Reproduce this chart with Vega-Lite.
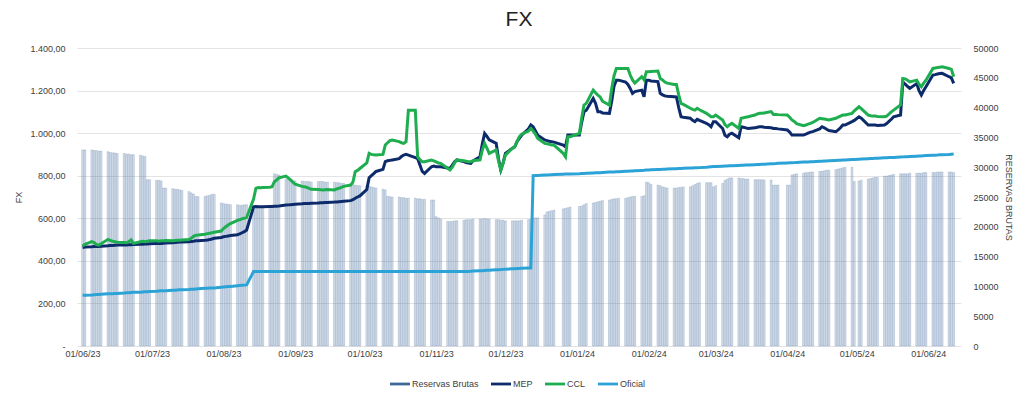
{
"$schema": "https://vega.github.io/schema/vega-lite/v6.json",
"width": 884, "height": 298,
"autosize": {"type": "none"},
"padding": {"left": 77, "top": 48, "right": 63, "bottom": 52},
"background": "white",
"config": {
  "locale": {"number": {"decimal": ",", "thousands": ".", "grouping": [3], "currency": ["$", ""]}},
  "font": "Liberation Sans",
  "view": {"stroke": null},
  "axis": {"labelFont": "Liberation Sans", "labelFontSize": 9, "labelColor": "#404040", "titleFont": "Liberation Sans", "titleFontSize": 9, "titleFontWeight": "normal", "titleColor": "#404040", "domain": false, "ticks": false}
},
"title": {"text": "FX", "fontSize": 21, "font": "Liberation Sans", "fontWeight": "normal", "color": "#222222", "offset": 14},
"data": {"values": [
{"d":"2023-06-01","r":32900,"m":463,"c":470,"o":238},
{"d":"2023-06-02","r":32900,"m":465,"c":478,"o":239},
{"d":"2023-06-05","r":32900,"m":466,"c":490,"o":240},
{"d":"2023-06-06","r":32800,"m":467,"c":486,"o":241},
{"d":"2023-06-07","r":32800,"m":467,"c":476,"o":242},
{"d":"2023-06-08","r":32700,"m":468,"c":474,"o":242},
{"d":"2023-06-09","r":32700,"m":469,"c":480,"o":243},
{"d":"2023-06-12","r":32600,"m":471,"c":501,"o":245},
{"d":"2023-06-13","r":32500,"m":472,"c":496,"o":245},
{"d":"2023-06-14","r":32400,"m":472,"c":492,"o":246},
{"d":"2023-06-15","r":32400,"m":473,"c":490,"o":247},
{"d":"2023-06-16","r":32300,"m":474,"c":488,"o":247},
{"d":"2023-06-19","r":32300,"m":475,"c":486,"o":249},
{"d":"2023-06-20","r":32200,"m":475,"c":485,"o":250},
{"d":"2023-06-21","r":32200,"m":476,"c":490,"o":250},
{"d":"2023-06-22","r":32100,"m":476,"c":498,"o":251},
{"d":"2023-06-23","r":32100,"m":477,"c":482,"o":252},
{"d":"2023-06-26","r":32000,"m":478,"c":490,"o":253},
{"d":"2023-06-27","r":31900,"m":478,"c":492,"o":254},
{"d":"2023-06-28","r":31800,"m":479,"c":490,"o":255},
{"d":"2023-06-29","r":27900,"m":479,"c":492,"o":255},
{"d":"2023-06-30","r":27900,"m":480,"c":494,"o":256},
{"d":"2023-07-03","r":27800,"m":481,"c":494,"o":257},
{"d":"2023-07-04","r":27800,"m":481,"c":492,"o":258},
{"d":"2023-07-05","r":27700,"m":482,"c":494,"o":259},
{"d":"2023-07-06","r":26500,"m":483,"c":495,"o":259},
{"d":"2023-07-07","r":26500,"m":484,"c":496,"o":260},
{"d":"2023-07-10","r":26400,"m":485,"c":495,"o":262},
{"d":"2023-07-11","r":26300,"m":486,"c":496,"o":262},
{"d":"2023-07-12","r":26300,"m":487,"c":497,"o":263},
{"d":"2023-07-13","r":26200,"m":488,"c":497,"o":264},
{"d":"2023-07-14","r":26100,"m":489,"c":498,"o":264},
{"d":"2023-07-17","r":25900,"m":490,"c":500,"o":266},
{"d":"2023-07-18","r":25700,"m":491,"c":506,"o":267},
{"d":"2023-07-19","r":25500,"m":492,"c":515,"o":267},
{"d":"2023-07-20","r":25100,"m":494,"c":520,"o":268},
{"d":"2023-07-21","r":25050,"m":495,"c":521,"o":269},
{"d":"2023-07-24","r":25100,"m":497,"c":525,"o":271},
{"d":"2023-07-25","r":25200,"m":498,"c":528,"o":271},
{"d":"2023-07-26","r":25300,"m":500,"c":530,"o":272},
{"d":"2023-07-27","r":25450,"m":503,"c":532,"o":273},
{"d":"2023-07-28","r":25450,"m":506,"c":534,"o":273},
{"d":"2023-07-31","r":24000,"m":510,"c":540,"o":276},
{"d":"2023-08-01","r":23900,"m":513,"c":552,"o":277},
{"d":"2023-08-02","r":23800,"m":515,"c":560,"o":278},
{"d":"2023-08-03","r":23800,"m":517,"c":568,"o":279},
{"d":"2023-08-04","r":23700,"m":519,"c":575,"o":280},
{"d":"2023-08-07","r":23700,"m":523,"c":590,"o":283},
{"d":"2023-08-08","r":23600,"m":527,"c":593,"o":284},
{"d":"2023-08-09","r":23600,"m":532,"c":598,"o":285},
{"d":"2023-08-10","r":23700,"m":537,"c":600,"o":286},
{"d":"2023-08-11","r":23700,"m":545,"c":604,"o":287},
{"d":"2023-08-14","r":23600,"m":654,"c":690,"o":350},
{"d":"2023-08-15","r":23500,"m":655,"c":741,"o":350},
{"d":"2023-08-16","r":23500,"m":654,"c":745,"o":350},
{"d":"2023-08-17","r":23400,"m":654,"c":744,"o":350},
{"d":"2023-08-18","r":23400,"m":654,"c":745,"o":350},
{"d":"2023-08-21","r":23500,"m":655,"c":746,"o":350},
{"d":"2023-08-22","r":23600,"m":655,"c":748,"o":350},
{"d":"2023-08-23","r":28900,"m":656,"c":772,"o":350},
{"d":"2023-08-24","r":28800,"m":657,"c":780,"o":350},
{"d":"2023-08-25","r":28700,"m":658,"c":790,"o":350},
{"d":"2023-08-28","r":28000,"m":662,"c":798,"o":350},
{"d":"2023-08-29","r":27900,"m":663,"c":790,"o":350},
{"d":"2023-08-30","r":27800,"m":664,"c":780,"o":350},
{"d":"2023-08-31","r":27800,"m":665,"c":770,"o":350},
{"d":"2023-09-01","r":27700,"m":666,"c":760,"o":350},
{"d":"2023-09-04","r":27700,"m":668,"c":750,"o":350},
{"d":"2023-09-05","r":27600,"m":669,"c":748,"o":350},
{"d":"2023-09-06","r":27600,"m":670,"c":745,"o":350},
{"d":"2023-09-07","r":27600,"m":670,"c":740,"o":350},
{"d":"2023-09-08","r":27500,"m":671,"c":736,"o":350},
{"d":"2023-09-11","r":27600,"m":672,"c":735,"o":350},
{"d":"2023-09-12","r":27600,"m":673,"c":734,"o":350},
{"d":"2023-09-13","r":27600,"m":673,"c":733,"o":350},
{"d":"2023-09-14","r":27500,"m":674,"c":734,"o":350},
{"d":"2023-09-15","r":27500,"m":674,"c":735,"o":350},
{"d":"2023-09-18","r":27500,"m":676,"c":733,"o":350},
{"d":"2023-09-19","r":27400,"m":677,"c":738,"o":350},
{"d":"2023-09-20","r":27400,"m":678,"c":741,"o":350},
{"d":"2023-09-21","r":27300,"m":679,"c":745,"o":350},
{"d":"2023-09-22","r":27300,"m":680,"c":750,"o":350},
{"d":"2023-09-25","r":27200,"m":683,"c":756,"o":350},
{"d":"2023-09-26","r":27100,"m":687,"c":770,"o":350},
{"d":"2023-09-27","r":27000,"m":694,"c":819,"o":350},
{"d":"2023-09-28","r":26900,"m":700,"c":825,"o":350},
{"d":"2023-09-29","r":26900,"m":705,"c":834,"o":350},
{"d":"2023-10-02","r":26900,"m":735,"c":860,"o":350},
{"d":"2023-10-03","r":26800,"m":790,"c":905,"o":350},
{"d":"2023-10-04","r":26700,"m":800,"c":900,"o":350},
{"d":"2023-10-05","r":26600,"m":810,"c":898,"o":350},
{"d":"2023-10-06","r":26500,"m":820,"c":897,"o":350},
{"d":"2023-10-09","r":26300,"m":830,"c":900,"o":350},
{"d":"2023-10-10","r":26200,"m":866,"c":944,"o":350},
{"d":"2023-10-11","r":25100,"m":870,"c":955,"o":350},
{"d":"2023-10-12","r":25050,"m":872,"c":965,"o":350},
{"d":"2023-10-13","r":25000,"m":874,"c":968,"o":350},
{"d":"2023-10-16","r":25000,"m":880,"c":960,"o":350},
{"d":"2023-10-17","r":24900,"m":890,"c":955,"o":350},
{"d":"2023-10-18","r":24900,"m":897,"c":952,"o":350},
{"d":"2023-10-19","r":24800,"m":900,"c":960,"o":350},
{"d":"2023-10-20","r":24800,"m":897,"c":1108,"o":350},
{"d":"2023-10-23","r":24800,"m":885,"c":1108,"o":350},
{"d":"2023-10-24","r":24700,"m":881,"c":889,"o":350},
{"d":"2023-10-25","r":24700,"m":850,"c":875,"o":350},
{"d":"2023-10-26","r":24600,"m":820,"c":866,"o":350},
{"d":"2023-10-27","r":24600,"m":811,"c":866,"o":350},
{"d":"2023-10-30","r":24500,"m":842,"c":874,"o":350},
{"d":"2023-10-31","r":24500,"m":845,"c":870,"o":350},
{"d":"2023-11-01","r":21700,"m":842,"c":865,"o":350},
{"d":"2023-11-02","r":21500,"m":842,"c":860,"o":350},
{"d":"2023-11-03","r":21300,"m":842,"c":858,"o":350},
{"d":"2023-11-06","r":20900,"m":836,"c":835,"o":350},
{"d":"2023-11-07","r":20900,"m":834,"c":827,"o":350},
{"d":"2023-11-08","r":20900,"m":850,"c":840,"o":350},
{"d":"2023-11-09","r":21000,"m":865,"c":860,"o":350},
{"d":"2023-11-10","r":21000,"m":874,"c":874,"o":350},
{"d":"2023-11-13","r":21100,"m":866,"c":870,"o":350},
{"d":"2023-11-14","r":21200,"m":862,"c":868,"o":350},
{"d":"2023-11-15","r":21200,"m":860,"c":866,"o":350.5},
{"d":"2023-11-16","r":21200,"m":858,"c":866,"o":351},
{"d":"2023-11-17","r":21300,"m":870,"c":870,"o":352},
{"d":"2023-11-20","r":21300,"m":889,"c":874,"o":353.5},
{"d":"2023-11-21","r":21300,"m":950,"c":920,"o":354},
{"d":"2023-11-22","r":21400,"m":999,"c":952,"o":355},
{"d":"2023-11-23","r":21300,"m":985,"c":930,"o":355.5},
{"d":"2023-11-24","r":21300,"m":968,"c":905,"o":356},
{"d":"2023-11-27","r":21200,"m":952,"c":921,"o":358},
{"d":"2023-11-28","r":21200,"m":880,"c":870,"o":358.5},
{"d":"2023-11-29","r":21100,"m":827,"c":827,"o":359},
{"d":"2023-11-30","r":21100,"m":860,"c":860,"o":360},
{"d":"2023-12-01","r":21000,"m":905,"c":897,"o":361},
{"d":"2023-12-04","r":21000,"m":929,"c":929,"o":362.5},
{"d":"2023-12-05","r":21000,"m":935,"c":935,"o":363},
{"d":"2023-12-06","r":21000,"m":960,"c":960,"o":364},
{"d":"2023-12-07","r":21000,"m":975,"c":983,"o":364.5},
{"d":"2023-12-08","r":21100,"m":990,"c":995,"o":365},
{"d":"2023-12-11","r":21200,"m":1020,"c":1010,"o":366},
{"d":"2023-12-12","r":21300,"m":1038,"c":1022,"o":366.5},
{"d":"2023-12-13","r":21500,"m":1030,"c":1010,"o":800},
{"d":"2023-12-14","r":21500,"m":1010,"c":995,"o":800.5},
{"d":"2023-12-15","r":21500,"m":990,"c":975,"o":801},
{"d":"2023-12-18","r":22000,"m":968,"c":952,"o":803},
{"d":"2023-12-19","r":22500,"m":965,"c":950,"o":803.5},
{"d":"2023-12-20","r":22600,"m":962,"c":947,"o":804},
{"d":"2023-12-21","r":22700,"m":960,"c":944,"o":805},
{"d":"2023-12-22","r":22800,"m":958,"c":944,"o":805.5},
{"d":"2023-12-26","r":23000,"m":944,"c":905,"o":807},
{"d":"2023-12-27","r":23100,"m":936,"c":889,"o":807.5},
{"d":"2023-12-28","r":23200,"m":991,"c":983,"o":808},
{"d":"2023-12-29","r":23300,"m":991,"c":983,"o":808.5},
{"d":"2024-01-02","r":23400,"m":991,"c":999,"o":809.5},
{"d":"2024-01-03","r":23500,"m":1050,"c":1070,"o":810},
{"d":"2024-01-04","r":23700,"m":1101,"c":1132,"o":810.5},
{"d":"2024-01-05","r":23900,"m":1108,"c":1140,"o":811},
{"d":"2024-01-08","r":24000,"m":1163,"c":1202,"o":813},
{"d":"2024-01-09","r":24100,"m":1140,"c":1190,"o":813.5},
{"d":"2024-01-10","r":24200,"m":1101,"c":1179,"o":814},
{"d":"2024-01-11","r":24300,"m":1101,"c":1170,"o":814.5},
{"d":"2024-01-12","r":24400,"m":1095,"c":1150,"o":815},
{"d":"2024-01-15","r":24500,"m":1093,"c":1132,"o":817},
{"d":"2024-01-16","r":24600,"m":1150,"c":1210,"o":817.5},
{"d":"2024-01-17","r":24700,"m":1220,"c":1270,"o":818},
{"d":"2024-01-18","r":24700,"m":1249,"c":1304,"o":818.5},
{"d":"2024-01-19","r":24800,"m":1249,"c":1304,"o":819},
{"d":"2024-01-22","r":24800,"m":1240,"c":1304,"o":821},
{"d":"2024-01-23","r":24900,"m":1229,"c":1304,"o":821.5},
{"d":"2024-01-24","r":25000,"m":1210,"c":1273,"o":822},
{"d":"2024-01-25","r":25100,"m":1187,"c":1250,"o":822.5},
{"d":"2024-01-26","r":25100,"m":1195,"c":1235,"o":823},
{"d":"2024-01-29","r":25100,"m":1202,"c":1265,"o":825},
{"d":"2024-01-30","r":25200,"m":1171,"c":1250,"o":825.5},
{"d":"2024-01-31","r":27500,"m":1249,"c":1288,"o":826.5},
{"d":"2024-02-01","r":27400,"m":1249,"c":1288,"o":827},
{"d":"2024-02-02","r":27100,"m":1245,"c":1290,"o":827.5},
{"d":"2024-02-05","r":27000,"m":1242,"c":1292,"o":829},
{"d":"2024-02-06","r":26900,"m":1187,"c":1257,"o":829.5},
{"d":"2024-02-07","r":26700,"m":1180,"c":1250,"o":830},
{"d":"2024-02-08","r":26600,"m":1175,"c":1240,"o":830.5},
{"d":"2024-02-09","r":26500,"m":1173,"c":1235,"o":831},
{"d":"2024-02-12","r":26500,"m":1171,"c":1229,"o":832.5},
{"d":"2024-02-13","r":26500,"m":1170,"c":1229,"o":833},
{"d":"2024-02-14","r":26600,"m":1120,"c":1180,"o":833.5},
{"d":"2024-02-15","r":26600,"m":1077,"c":1140,"o":834},
{"d":"2024-02-16","r":26700,"m":1075,"c":1135,"o":834.5},
{"d":"2024-02-19","r":26700,"m":1070,"c":1117,"o":836},
{"d":"2024-02-20","r":26900,"m":1060,"c":1112,"o":836.5},
{"d":"2024-02-21","r":27100,"m":1054,"c":1108,"o":837},
{"d":"2024-02-22","r":27300,"m":1065,"c":1117,"o":837.5},
{"d":"2024-02-23","r":27400,"m":1060,"c":1110,"o":838},
{"d":"2024-02-26","r":27400,"m":1046,"c":1093,"o":840},
{"d":"2024-02-27","r":27400,"m":1040,"c":1085,"o":841},
{"d":"2024-02-28","r":27400,"m":1030,"c":1077,"o":842},
{"d":"2024-02-29","r":26700,"m":1054,"c":1077,"o":843},
{"d":"2024-03-01","r":26900,"m":1054,"c":1085,"o":843.5},
{"d":"2024-03-04","r":27300,"m":1022,"c":1062,"o":845},
{"d":"2024-03-05","r":27800,"m":990,"c":1040,"o":845.5},
{"d":"2024-03-06","r":28000,"m":983,"c":1030,"o":846},
{"d":"2024-03-07","r":28200,"m":995,"c":1040,"o":846.5},
{"d":"2024-03-08","r":28200,"m":1000,"c":1046,"o":847},
{"d":"2024-03-11","r":28200,"m":978,"c":1022,"o":848.5},
{"d":"2024-03-12","r":28100,"m":1030,"c":1070,"o":849},
{"d":"2024-03-13","r":28100,"m":1028,"c":1072,"o":849.5},
{"d":"2024-03-14","r":28000,"m":1025,"c":1075,"o":850},
{"d":"2024-03-15","r":28000,"m":1022,"c":1077,"o":850.5},
{"d":"2024-03-18","r":27900,"m":1025,"c":1085,"o":852},
{"d":"2024-03-19","r":27900,"m":1028,"c":1090,"o":852.5},
{"d":"2024-03-20","r":27900,"m":1030,"c":1093,"o":853},
{"d":"2024-03-21","r":27900,"m":1030,"c":1093,"o":853.5},
{"d":"2024-03-22","r":27850,"m":1028,"c":1095,"o":854},
{"d":"2024-03-25","r":27850,"m":1025,"c":1101,"o":856},
{"d":"2024-03-26","r":27000,"m":1022,"c":1088,"o":856.5},
{"d":"2024-03-27","r":27000,"m":1022,"c":1088,"o":857},
{"d":"2024-03-28","r":27000,"m":1020,"c":1087,"o":858},
{"d":"2024-04-01","r":27000,"m":1015,"c":1085,"o":860},
{"d":"2024-04-02","r":27000,"m":1005,"c":1075,"o":860.5},
{"d":"2024-04-03","r":28700,"m":991,"c":1062,"o":861},
{"d":"2024-04-04","r":28800,"m":991,"c":1055,"o":861.5},
{"d":"2024-04-05","r":28900,"m":991,"c":1045,"o":862},
{"d":"2024-04-08","r":29000,"m":991,"c":1035,"o":864},
{"d":"2024-04-09","r":29100,"m":995,"c":1038,"o":864.5},
{"d":"2024-04-10","r":29100,"m":1000,"c":1042,"o":865},
{"d":"2024-04-11","r":29200,"m":1005,"c":1046,"o":865.5},
{"d":"2024-04-12","r":29200,"m":1007,"c":1050,"o":866},
{"d":"2024-04-15","r":29300,"m":1020,"c":1070,"o":868},
{"d":"2024-04-16","r":29300,"m":1030,"c":1068,"o":868.5},
{"d":"2024-04-17","r":29400,"m":1025,"c":1066,"o":869},
{"d":"2024-04-18","r":29500,"m":1018,"c":1064,"o":869.5},
{"d":"2024-04-19","r":29500,"m":1012,"c":1062,"o":870},
{"d":"2024-04-22","r":29600,"m":1007,"c":1070,"o":872},
{"d":"2024-04-23","r":29700,"m":1015,"c":1075,"o":872.5},
{"d":"2024-04-24","r":29800,"m":1025,"c":1080,"o":873},
{"d":"2024-04-25","r":29900,"m":1038,"c":1085,"o":873.5},
{"d":"2024-04-26","r":29950,"m":1038,"c":1085,"o":874},
{"d":"2024-04-29","r":29980,"m":1054,"c":1093,"o":876},
{"d":"2024-04-30","r":27600,"m":1060,"c":1105,"o":876.5},
{"d":"2024-05-02","r":27700,"m":1077,"c":1124,"o":877.5},
{"d":"2024-05-03","r":27800,"m":1070,"c":1115,"o":878},
{"d":"2024-05-06","r":28000,"m":1038,"c":1085,"o":880},
{"d":"2024-05-07","r":28100,"m":1038,"c":1082,"o":880.5},
{"d":"2024-05-08","r":28200,"m":1038,"c":1080,"o":881},
{"d":"2024-05-09","r":28300,"m":1038,"c":1080,"o":881.5},
{"d":"2024-05-10","r":28300,"m":1036,"c":1078,"o":882},
{"d":"2024-05-13","r":28500,"m":1038,"c":1077,"o":884},
{"d":"2024-05-14","r":28500,"m":1045,"c":1080,"o":884.5},
{"d":"2024-05-15","r":28600,"m":1055,"c":1090,"o":885},
{"d":"2024-05-16","r":28700,"m":1065,"c":1100,"o":885.5},
{"d":"2024-05-17","r":28800,"m":1077,"c":1108,"o":886},
{"d":"2024-05-20","r":28900,"m":1085,"c":1132,"o":888},
{"d":"2024-05-21","r":28900,"m":1241,"c":1257,"o":888.5},
{"d":"2024-05-22","r":28900,"m":1230,"c":1255,"o":889},
{"d":"2024-05-23","r":28900,"m":1220,"c":1248,"o":889.5},
{"d":"2024-05-24","r":29000,"m":1210,"c":1241,"o":890},
{"d":"2024-05-27","r":29000,"m":1233,"c":1249,"o":892},
{"d":"2024-05-28","r":29000,"m":1200,"c":1230,"o":892.5},
{"d":"2024-05-29","r":29000,"m":1179,"c":1218,"o":893},
{"d":"2024-05-30","r":29100,"m":1200,"c":1235,"o":894},
{"d":"2024-05-31","r":29100,"m":1218,"c":1249,"o":894.5},
{"d":"2024-06-03","r":29100,"m":1273,"c":1304,"o":896},
{"d":"2024-06-04","r":29100,"m":1275,"c":1306,"o":896.5},
{"d":"2024-06-05","r":29200,"m":1278,"c":1308,"o":897},
{"d":"2024-06-06","r":29200,"m":1280,"c":1310,"o":898},
{"d":"2024-06-07","r":29200,"m":1281,"c":1312,"o":898.5},
{"d":"2024-06-10","r":29200,"m":1265,"c":1304,"o":900},
{"d":"2024-06-11","r":29200,"m":1260,"c":1300,"o":901},
{"d":"2024-06-12","r":29100,"m":1234,"c":1265,"o":902}
]},
"resolve": {"scale": {"y": "independent"}},
"layer": [
  {
    "mark": {"type": "bar", "width": 1.8, "fillOpacity": 0.22, "stroke": "#6a8bb1", "strokeWidth": 0.5, "strokeOpacity": 0.6},
    "encoding": {
      "x": {"field": "d", "type": "temporal",
        "scale": {"type": "utc", "domain": ["2023-05-31T18:00:00Z", "2024-06-13T00:00:00Z"]},
        "axis": {"title": null, "format": "%d/%m/%y", "grid": false, "labelPadding": 3, "labelFlush": false,
          "values": [
            {"year": 2023, "month": 6, "date": 1, "utc": true},
            {"year": 2023, "month": 7, "date": 1, "utc": true},
            {"year": 2023, "month": 8, "date": 1, "utc": true},
            {"year": 2023, "month": 9, "date": 1, "utc": true},
            {"year": 2023, "month": 10, "date": 1, "utc": true},
            {"year": 2023, "month": 11, "date": 1, "utc": true},
            {"year": 2023, "month": 12, "date": 1, "utc": true},
            {"year": 2024, "month": 1, "date": 1, "utc": true},
            {"year": 2024, "month": 2, "date": 1, "utc": true},
            {"year": 2024, "month": 3, "date": 1, "utc": true},
            {"year": 2024, "month": 4, "date": 1, "utc": true},
            {"year": 2024, "month": 5, "date": 1, "utc": true},
            {"year": 2024, "month": 6, "date": 1, "utc": true}
          ]}},
      "y": {"field": "r", "type": "quantitative", "scale": {"domain": [0, 50000], "nice": false},
        "axis": {"orient": "right", "title": "RESERVAS BRUTAS", "format": "d", "grid": false, "labelPadding": 12, "titlePadding": 5,
          "values": [0, 5000, 10000, 15000, 20000, 25000, 30000, 35000, 40000, 45000, 50000]}},
      "color": {"datum": "Reservas Brutas", "type": "nominal",
        "scale": {"domain": ["Reservas Brutas", "MEP", "CCL", "Oficial"], "range": ["#3d6a99", "#0d2a6b", "#1fae4f", "#2ca3d6"]},
        "legend": {"title": null, "orient": "none", "legendX": 313, "legendY": 326, "direction": "horizontal",
          "labelFont": "Liberation Sans", "labelFontSize": 9, "labelColor": "#404040", "labelOffset": 2, "columnPadding": 12,
          "symbolType": "M-1,-0.14H1V0.14H-1Z", "symbolSize": 400, "symbolStrokeWidth": 0, "symbolOpacity": 1,
          "encode": {"symbols": {"update": {
            "shape": {"signal": "datum.value === 'Reservas Brutas' ? 'M-1,-0.3H1V0.3H-1Z' : 'M-1,-0.14H1V0.14H-1Z'"},
            "fill": {"scale": "color", "field": "value"},
            "opacity": {"value": 1},
            "fillOpacity": {"value": 1},
            "strokeWidth": {"value": 0}}}}}}
    }
  },
  {
    "layer": [
      {
        "mark": {"type": "line", "strokeWidth": 3, "interpolate": "linear"},
        "encoding": {
          "x": {"field": "d", "type": "temporal"},
          "y": {"field": "o", "type": "quantitative", "scale": {"domain": [0, 1400], "nice": false},
            "axis": {"title": "FX", "format": ",.2f", "labelExpr": "datum.value === 0 ? '-' : datum.label",
              "values": [0, 200, 400, 600, 800, 1000, 1200, 1400], "grid": true, "gridColor": "#e3e3e3", "gridWidth": 1,
              "labelPadding": 12, "titlePadding": 6}},
          "color": {"datum": "Oficial", "type": "nominal"}
        }
      },
      {
        "mark": {"type": "line", "strokeWidth": 3},
        "encoding": {
          "x": {"field": "d", "type": "temporal"},
          "y": {"field": "m", "type": "quantitative"},
          "color": {"datum": "MEP", "type": "nominal"}
        }
      },
      {
        "mark": {"type": "line", "strokeWidth": 3},
        "encoding": {
          "x": {"field": "d", "type": "temporal"},
          "y": {"field": "c", "type": "quantitative"},
          "color": {"datum": "CCL", "type": "nominal"}
        }
      }
    ]
  }
]
}
